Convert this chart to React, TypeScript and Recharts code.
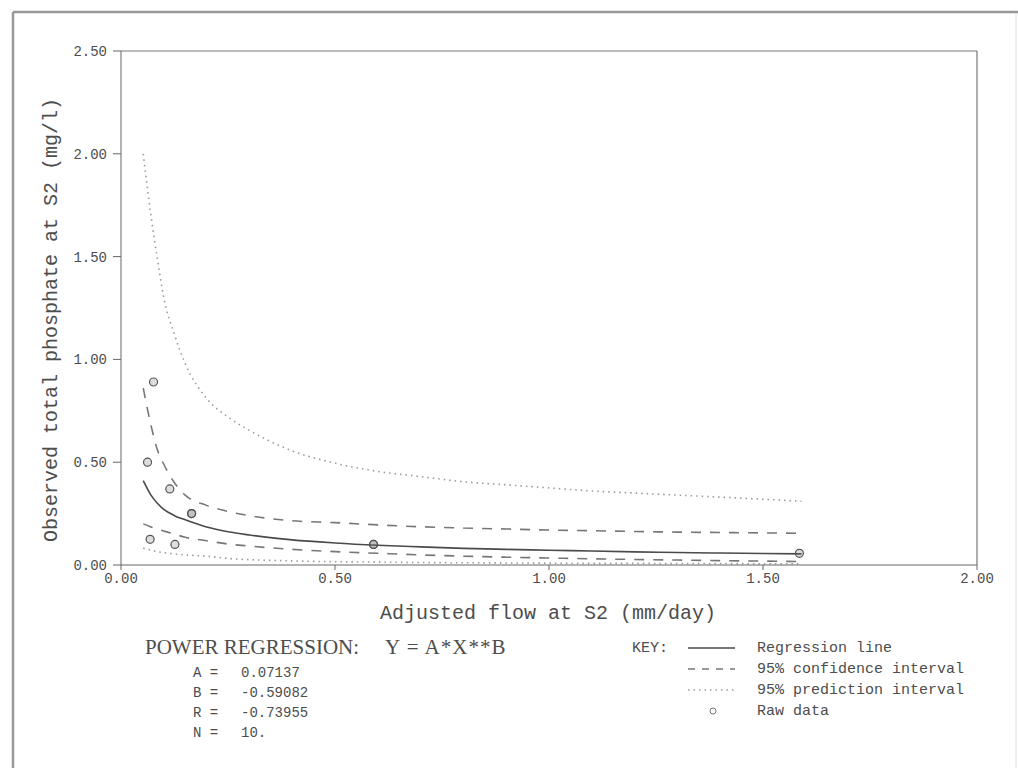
import React from "react";
import {
  ComposedChart,
  Line,
  Scatter,
  XAxis,
  YAxis,
  ReferenceLine,
} from "recharts";

// x grid used for the fitted curves (mm/day)
const curveX = [
  0.052, 0.07, 0.085, 0.1, 0.125, 0.15, 0.2, 0.25, 0.3, 0.4, 0.5, 0.6, 0.7,
  0.8, 0.9, 1.0, 1.1, 1.2, 1.3, 1.4, 1.5, 1.59,
];

// values (mg/l)
const regressionY = [
  0.41, 0.34, 0.3, 0.27, 0.24, 0.22, 0.185, 0.162, 0.146, 0.122, 0.107, 0.096,
  0.088, 0.081, 0.076, 0.072, 0.068, 0.064, 0.061, 0.058, 0.056, 0.054,
];
const confUpperY = [
  0.86, 0.68, 0.56, 0.49, 0.4, 0.34, 0.29, 0.26, 0.24, 0.215, 0.206, 0.195,
  0.186, 0.18, 0.175, 0.17, 0.167, 0.163, 0.16, 0.158, 0.156, 0.154,
];
const confLowerY = [
  0.2, 0.185, 0.175, 0.165, 0.15, 0.135, 0.118, 0.102, 0.092, 0.076, 0.065,
  0.057, 0.049, 0.043, 0.038, 0.034, 0.03, 0.027, 0.024, 0.021, 0.019, 0.017,
];
const predUpperY = [
  2.0, 1.7, 1.49, 1.3, 1.12, 0.98, 0.81, 0.72, 0.655, 0.555, 0.495, 0.455,
  0.43, 0.405, 0.39, 0.375, 0.36, 0.35, 0.34, 0.33, 0.32, 0.31,
];
const predLowerY = [
  0.082, 0.072, 0.065, 0.06, 0.054, 0.049, 0.043, 0.032, 0.026, 0.02, 0.016,
  0.014, 0.012, 0.011, 0.01, 0.009, 0.008, 0.008, 0.007, 0.007, 0.006, 0.006,
];

// raw observations (N = 10, two pairs overlap)
const rawX = [0.062, 0.068, 0.076, 0.114, 0.126, 0.165, 0.165, 0.59, 0.59, 1.585];
const rawY = [0.5, 0.125, 0.89, 0.37, 0.1, 0.25, 0.25, 0.1, 0.1, 0.057];

const xTicks = [0, 0.5, 1.0, 1.5, 2.0];
const yTicks = [0, 0.5, 1.0, 1.5, 2.0, 2.5];

const params = [
  { name: "A", value: "0.07137" },
  { name: "B", value: "-0.59082" },
  { name: "R", value: "-0.73955" },
  { name: "N", value: "10." },
];

const keyLabels = [
  "Regression line",
  "95% confidence interval",
  "95% prediction interval",
  "Raw data",
];

const toSeries = (ys: number[]) => curveX.map((x, i) => ({ x, y: ys[i] }));

const MONO = "'Liberation Mono', 'DejaVu Sans Mono', monospace";
const SERIF = "'Liberation Serif', serif";
const INK = "#4d4d4d";

const RawDot = (props: any) => {
  const { cx, cy } = props;
  if (cx == null || cy == null) return null;
  return (
    <circle
      cx={cx}
      cy={cy}
      r={4}
      fill="#666"
      fillOpacity={0.22}
      stroke="#555"
      strokeWidth={1.2}
    />
  );
};

export default function App() {
  const rawData = rawX.map((x, i) => ({ x, y: rawY[i] }));
  const tickStyle = { fill: INK, fontSize: 14, fontFamily: MONO };

  return (
    <div
      style={{
        position: "absolute",
        left: 0,
        top: 0,
        width: 1018,
        height: 768,
        background: "#fff",
        overflow: "hidden",
      }}
    >
      <ComposedChart
        width={1018}
        height={768}
        margin={{ top: 51, right: 41, bottom: 0, left: 0 }}
      >
        <XAxis
          dataKey="x"
          type="number"
          domain={[0, 2]}
          ticks={xTicks}
          tickFormatter={(v: number) => v.toFixed(2)}
          height={203}
          tickSize={5}
          tickMargin={3}
          stroke="#666"
          tick={tickStyle}
          allowDataOverflow
        />
        <YAxis
          type="number"
          domain={[0, 2.5]}
          ticks={yTicks}
          tickFormatter={(v: number) => v.toFixed(2)}
          width={121}
          tickSize={8}
          tickMargin={6}
          stroke="#666"
          tick={tickStyle}
          allowDataOverflow
        />
        <ReferenceLine y={2.5} stroke="#777" strokeWidth={1.2} />
        <ReferenceLine x={2} stroke="#777" strokeWidth={1.2} />

        <Line
          data={toSeries(predUpperY)}
          dataKey="y"
          type="monotone"
          stroke="#9a9a9a"
          strokeWidth={1.6}
          strokeDasharray="1.5 4"
          dot={false}
          activeDot={false}
          isAnimationActive={false}
        />
        <Line
          data={toSeries(predLowerY)}
          dataKey="y"
          type="monotone"
          stroke="#9a9a9a"
          strokeWidth={1.6}
          strokeDasharray="1.5 4"
          dot={false}
          activeDot={false}
          isAnimationActive={false}
        />
        <Line
          data={toSeries(confUpperY)}
          dataKey="y"
          type="monotone"
          stroke="#777"
          strokeWidth={1.6}
          strokeDasharray="10 9"
          dot={false}
          activeDot={false}
          isAnimationActive={false}
        />
        <Line
          data={toSeries(confLowerY)}
          dataKey="y"
          type="monotone"
          stroke="#777"
          strokeWidth={1.6}
          strokeDasharray="10 9"
          dot={false}
          activeDot={false}
          isAnimationActive={false}
        />
        <Line
          data={toSeries(regressionY)}
          dataKey="y"
          type="monotone"
          stroke="#4a4a4a"
          strokeWidth={1.6}
          dot={false}
          activeDot={false}
          isAnimationActive={false}
        />
        <Scatter
          data={rawData}
          dataKey="y"
          shape={RawDot}
          isAnimationActive={false}
        />
      </ComposedChart>

      <svg
        width={1018}
        height={768}
        style={{ position: "absolute", left: 0, top: 0, pointerEvents: "none" }}
      >
        {/* scanned page frame */}
        <line x1={13} y1={12} x2={1018} y2={12} stroke="#999" strokeWidth={2.5} />
        <line x1={13} y1={12} x2={13} y2={768} stroke="#999" strokeWidth={2.5} />
        <line x1={1016} y1={14} x2={1016} y2={768} stroke="#ddd" strokeWidth={1} />

        <text
          x={548}
          y={613}
          textAnchor="middle"
          dominantBaseline="central"
          fontFamily={MONO}
          fontSize={20}
          fill={INK}
        >
          Adjusted flow at S2 (mm/day)
        </text>
        <text
          transform="translate(51,320) rotate(-90)"
          textAnchor="middle"
          dominantBaseline="central"
          fontFamily={MONO}
          fontSize={20}
          fill={INK}
        >
          Observed total phosphate at S2 (mg/l)
        </text>

        <text x={145} y={647} dominantBaseline="central" fontFamily={SERIF} fontSize={21} fill={INK}>
          POWER REGRESSION:
        </text>
        <text
          x={385}
          y={647}
          dominantBaseline="central"
          fontFamily={SERIF}
          fontSize={21}
          letterSpacing={1}
          fill={INK}
        >
          Y = A*X**B
        </text>
        {params.map((p, i) => (
          <g key={p.name}>
            <text x={193} y={673 + i * 20} dominantBaseline="central" fontFamily={MONO} fontSize={14} fill={INK}>
              {p.name} =
            </text>
            <text x={241} y={673 + i * 20} dominantBaseline="central" fontFamily={MONO} fontSize={14} fill={INK}>
              {p.value}
            </text>
          </g>
        ))}

        <text x={632} y={648} dominantBaseline="central" fontFamily={MONO} fontSize={15} fill={INK}>
          KEY:
        </text>
        <line x1={688} y1={648} x2={735} y2={648} stroke="#4a4a4a" strokeWidth={1.6} />
        <line x1={688} y1={669} x2={735} y2={669} stroke="#777" strokeWidth={1.6} strokeDasharray="7 7" />
        <line x1={688} y1={690} x2={735} y2={690} stroke="#9a9a9a" strokeWidth={1.6} strokeDasharray="1.5 4" />
        <circle cx={713} cy={711} r={3} fill="#fff" stroke="#777" strokeWidth={1} />
        {keyLabels.map((t, i) => (
          <text key={t} x={757} y={648 + i * 21} dominantBaseline="central" fontFamily={MONO} fontSize={15} fill={INK}>
            {t}
          </text>
        ))}
      </svg>
    </div>
  );
}
